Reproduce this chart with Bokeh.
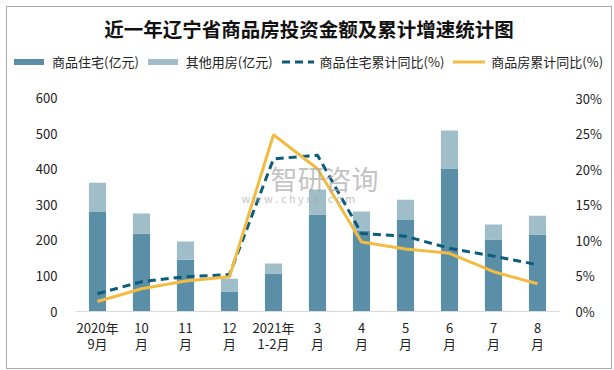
from bokeh.plotting import figure
from bokeh.layouts import column
from bokeh.models import (ColumnDataSource, FactorRange, Range1d, LinearAxis, Label,
                          FixedTicker, PrintfTickFormatter, Div)
from bokeh.embed import file_html
from bokeh.resources import INLINE

categories = ["2020年\n9月", "10\n月", "11\n月", "12\n月", "2021年\n1-2月", "3\n月",
              "4\n月", "5\n月", "6\n月", "7\n月", "8\n月"]
housing = [280, 219, 146, 56, 107, 273, 228, 258, 403, 203, 217]
other = [83, 57, 51, 36, 28, 71, 54, 57, 107, 42, 53]
housing_yoy = [2.5, 4.2, 4.9, 5.2, 21.5, 22.0, 11.0, 10.6, 8.9, 7.8, 6.6]
total_yoy = [1.4, 3.2, 4.3, 4.9, 24.9, 20.1, 9.8, 8.8, 8.2, 5.6, 3.9]
left_ticks = [0, 100, 200, 300, 400, 500, 600]
right_ticks = [0, 5, 10, 15, 20, 25, 30]
series_names = ["商品住宅(亿元)", "其他用房(亿元)", "商品住宅累计同比(%)", "商品房累计同比(%)"]
title_text = "近一年辽宁省商品房投资金额及累计增速统计图"

FONT = "Noto Sans CJK SC"
C_HOUSE = "#5b8fa7"
C_OTHER = "#a0bdca"
C_DASH = "#0d5b7a"
C_YEL = "#f2bc42"

# ---------------- header (title + legend) as HTML ----------------
def swatch_bar(color):
    return (f'<svg width="30" height="8" style="margin-right:8px">'
            f'<rect x="0" y="1" width="30" height="6" fill="{color}"/></svg>')

def swatch_line(color, dash=None):
    d = f' stroke-dasharray="{dash}"' if dash else ""
    return (f'<svg width="32" height="8" style="margin-right:6px">'
            f'<line x1="0" y1="4" x2="32" y2="4" stroke="{color}" stroke-width="3"{d}/></svg>')

swatches = [swatch_bar(C_HOUSE), swatch_bar(C_OTHER), swatch_line(C_DASH, "8 5"),
            swatch_line(C_YEL)]
items_html = "".join(
    f'<span style="display:inline-flex;align-items:center;margin-right:9px">{sw}'
    f'<span>{name}</span></span>'
    for sw, name in zip(swatches, series_names))

header_html = (
    f'<div style="position:relative;width:604px;height:73px;font-family:\'{FONT}\';">'
    f'<div style="position:absolute;left:0;top:8px;width:604px;text-align:center;'
    f'font-size:19.5px;font-weight:bold;color:#111;line-height:28px">{title_text}</div>'
    f'<div style="position:absolute;left:7px;top:46px;white-space:nowrap;font-size:13px;'
    f'color:#222;display:flex;align-items:center;line-height:18px">{items_html}</div>'
    f'</div>')
header = Div(text=header_html, width=604, height=73, margin=0)

# ---------------- main chart ----------------
src = ColumnDataSource(dict(cat=categories, housing=housing, other=other,
                            hyoy=housing_yoy, tyoy=total_yoy))

p = figure(width=604, height=288, x_range=FactorRange(*categories, range_padding=0),
           y_range=Range1d(0, 636.6), output_backend="svg", toolbar_location=None,
           min_border_left=68, min_border_right=52, min_border_bottom=57, min_border_top=5,
           margin=0)
p.extra_y_ranges = {"pct": Range1d(0, 31.83)}

bars = p.vbar_stack(["housing", "other"], x="cat", width=0.39, color=[C_HOUSE, C_OTHER],
                    line_color=None, source=src)
l1 = p.line(x="cat", y="hyoy", y_range_name="pct", source=src, line_color=C_DASH,
            line_width=3, line_dash="8 5")
l2 = p.line(x="cat", y="tyoy", y_range_name="pct", source=src, line_color=C_YEL,
            line_width=3)

p.yaxis.ticker = FixedTicker(ticks=left_ticks)
p.yaxis.axis_line_color = None
p.yaxis.major_tick_line_color = None
p.yaxis.minor_tick_line_color = None
p.yaxis.major_label_standoff = 12
p.yaxis.major_label_text_font = FONT
p.yaxis.major_label_text_font_size = "13px"
p.yaxis.major_label_text_color = "#222222"

rax = LinearAxis(y_range_name="pct", ticker=FixedTicker(ticks=right_ticks),
                 formatter=PrintfTickFormatter(format="%d%%"))
rax.axis_line_color = None
rax.major_tick_line_color = None
rax.minor_tick_line_color = None
rax.major_label_standoff = 10
rax.major_label_text_font = FONT
rax.major_label_text_font_size = "13px"
rax.major_label_text_color = "#222222"
p.add_layout(rax, "right")

p.xaxis.axis_line_color = "#d9d9d9"
p.xaxis.major_tick_line_color = None
p.xaxis.minor_tick_line_color = None
p.xaxis.major_label_text_font = FONT
p.xaxis.major_label_text_font_size = "13px"
p.xaxis.major_label_text_color = "#222222"
p.xaxis.major_label_text_line_height = 0.85
p.xaxis.major_label_standoff = 0
p.xaxis.axis_label_standoff = 0

p.xgrid.grid_line_color = None
p.ygrid.grid_line_color = None
p.outline_line_color = None

# watermark
p.add_layout(Label(x=195, y=133, x_units="screen", y_units="screen", text="智研咨询",
                   text_font=FONT, text_font_size="27px", text_color="#a8a8a8",
                   text_alpha=0.7, text_baseline="middle"))
p.add_layout(Label(x=166, y=114, x_units="screen", y_units="screen",
                   text="w  w  w  .  c  h  y  x  x  .  c  o  m",
                   text_font=FONT, text_font_size="11px", text_color="#a8a8a8",
                   text_alpha=0.7, text_baseline="middle"))

layout = column(header, p, spacing=0, margin=(6, 0, 0, 6),
                styles={"border": "1px solid #a9a9a9"})

open("out.html", "w").write(file_html(layout, INLINE))
